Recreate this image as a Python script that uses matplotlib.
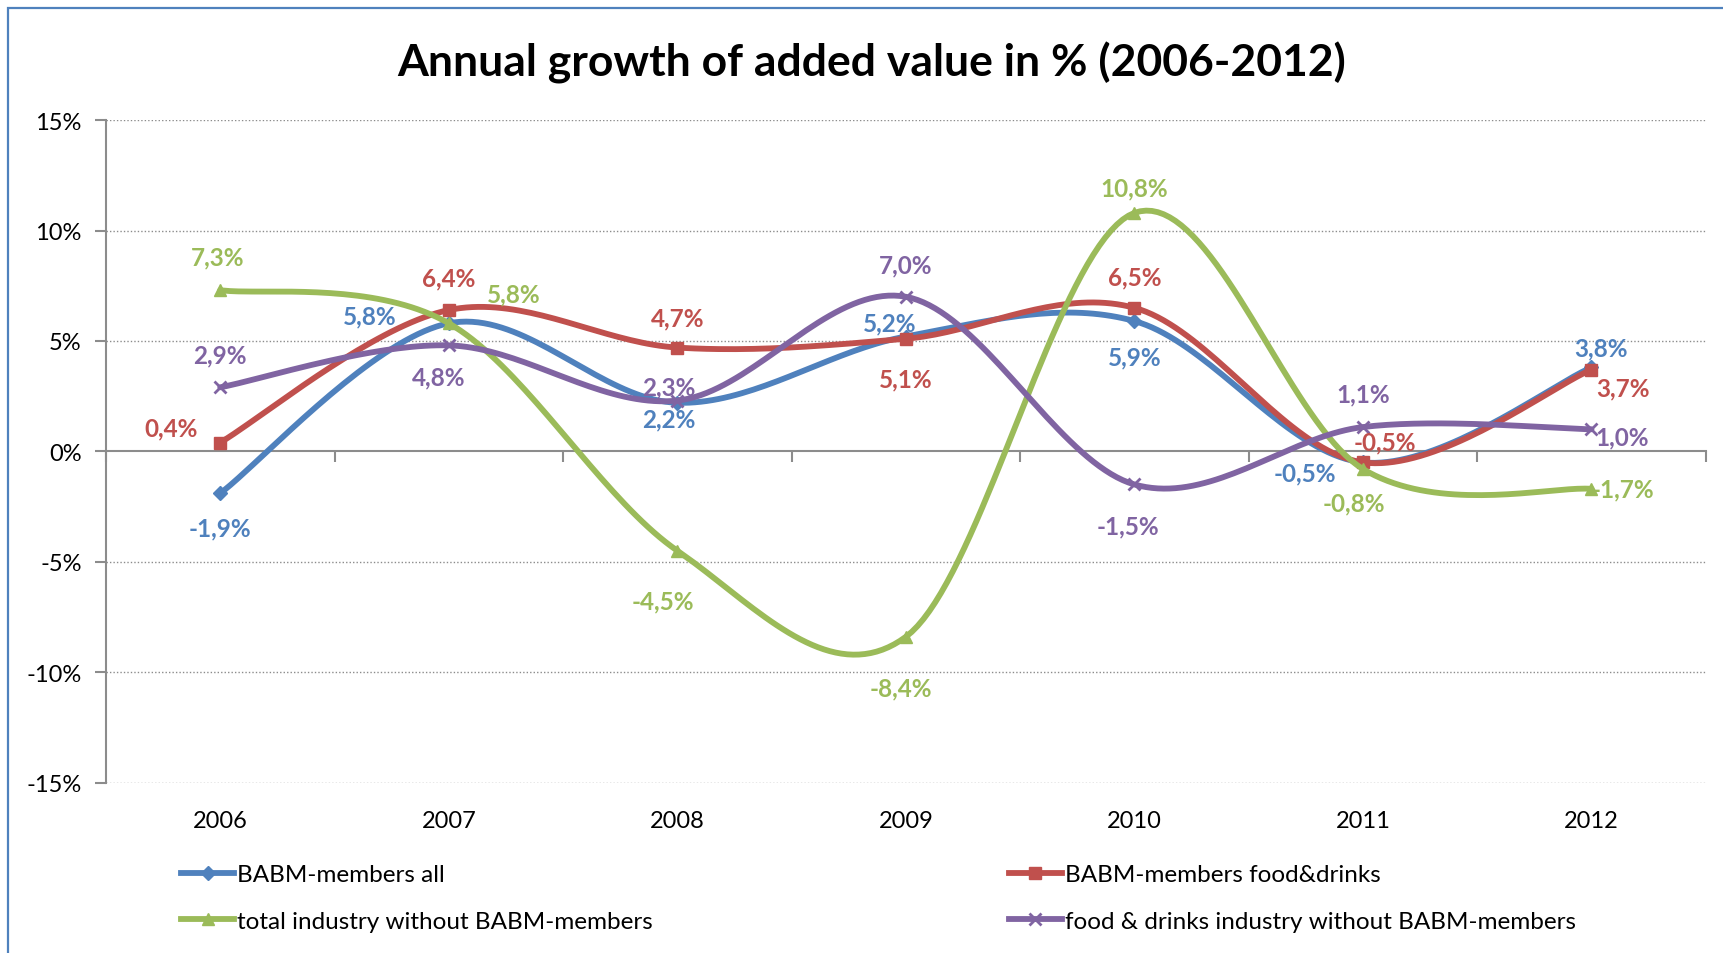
import matplotlib
matplotlib.use("Agg")
import matplotlib.pyplot as plt
import numpy as np
from matplotlib.lines import Line2D
from matplotlib.patches import Rectangle

# ── Data ──────────────────────────────────────────────────────────────────────
years = ["2006", "2007", "2008", "2009", "2010", "2011", "2012"]
babm_all = [-1.9, 5.8, 2.2, 5.2, 5.9, -0.5, 3.8]
babm_food = [0.4, 6.4, 4.7, 5.1, 6.5, -0.5, 3.7]
industry_wo_babm = [7.3, 5.8, -4.5, -8.4, 10.8, -0.8, -1.7]
food_wo_babm = [2.9, 4.8, 2.3, 7.0, -1.5, 1.1, 1.0]

series_names = [
    "BABM-members all",
    "BABM-members food&drinks",
    "total industry without BABM-members",
    "food & drinks industry without BABM-members",
]

# ── Styles ────────────────────────────────────────────────────────────────────
COLORS = ["#4F81BD", "#C0504D", "#9BBB59", "#8064A2"]
MARKERS = ["D", "s", "^", "x"]
MSIZE = [7, 9, 9, 9]
# label offsets in pixels (dx, dy) per point
OFFSETS = [
    [(0, -35), (-79, 7), (-9, -16), (-16, 14), (0, -36), (-58, -11), (9, 20)],
    [(-49, 15), (0, 32), (0, 30), (0, -40), (0, 31), (22, 20), (31, -18)],
    [(-3, 33), (65, 29), (-14, -50), (-5, -51), (0, 25), (-9, -34), (31, 0)],
    [(0, 32), (-10, -32), (-9, 14), (0, 32), (-6, -41), (0, 33), (31, -8)],
]

plt.rcParams.update({
    "font.family": ["Lato", "DejaVu Sans"],
    "font.size": 17,
})


def smooth(y, n=40):
    """Catmull-Rom style bezier smoothing (like Excel's smoothed line)."""
    y = np.asarray(y, float)
    x = np.arange(len(y), dtype=float)
    pts = np.column_stack([x, y])
    out = []
    for i in range(len(pts) - 1):
        p0 = pts[max(i - 1, 0)]
        p1 = pts[i]
        p2 = pts[i + 1]
        p3 = pts[min(i + 2, len(pts) - 1)]
        c1 = p1 + (p2 - p0) / 6.0
        c2 = p2 - (p3 - p1) / 6.0
        t = np.linspace(0, 1, n)[:, None]
        seg = ((1 - t) ** 3) * p1 + 3 * ((1 - t) ** 2) * t * c1 \
            + 3 * (1 - t) * t ** 2 * c2 + t ** 3 * p2
        out.append(seg if i == 0 else seg[1:])
    out = np.vstack(out)
    return out[:, 0], out[:, 1]


fig = plt.figure(figsize=(17.23, 9.54), dpi=100)
ax = fig.add_axes([0.0615, 0.1787, 0.9285, 0.6943])

all_series = [babm_all, babm_food, industry_wo_babm, food_wo_babm]
x = np.arange(len(years))
handles = []
for k, vals in enumerate(all_series):
    xs, ys = smooth(vals)
    ax.plot(xs, ys, color=COLORS[k], lw=4.2, solid_capstyle="round", zorder=3 + k)
    ax.plot(x, vals, ls="none", marker=MARKERS[k], ms=MSIZE[k], color=COLORS[k],
            mew=2 if MARKERS[k] == "x" else 1, zorder=3 + k)
    for i, v in enumerate(vals):
        ax.annotate(f"{v:.1f}%".replace(".", ","), (i, v),
                    xytext=OFFSETS[k][i], textcoords="offset pixels",
                    ha="center", va="center", color=COLORS[k],
                    fontsize=17.5, fontweight="bold", zorder=10)
    handles.append(Line2D([], [], color=COLORS[k], lw=4.2, marker=MARKERS[k],
                          ms=MSIZE[k], mew=2 if MARKERS[k] == "x" else 1))

ax.set_xlim(-0.5, 6.5)
ax.set_ylim(-15, 15)
yt = np.arange(-15, 16, 5)
ax.set_yticks(yt, [f"{v}%" for v in yt])
for v in yt:
    if v != 0:
        ax.axhline(v, color="#8c8c8c", lw=1, ls=(0, (1, 1.5)), zorder=1)

for s in ["top", "right"]:
    ax.spines[s].set_visible(False)
ax.spines["left"].set_color("#8c8c8c")
ax.spines["left"].set_linewidth(1.5)
ax.spines["bottom"].set_position(("data", 0))
ax.spines["bottom"].set_color("#8c8c8c")
ax.spines["bottom"].set_linewidth(1.5)
ax.set_xticks(np.arange(-0.5, 7, 1), [""] * 8)
ax.tick_params(axis="x", direction="out", length=8, color="#8c8c8c", width=1.5)
ax.tick_params(axis="y", direction="out", length=8, color="#8c8c8c", width=1.5,
               pad=9.6, labelsize=17)

# category labels sit at the bottom of the plot area
sec = ax.secondary_xaxis("bottom")
sec.set_xticks(x, years)
sec.tick_params(length=0, pad=20, labelsize=17)
sec.spines["bottom"].set_visible(False)

fig.text(0.506, 0.934, "Annual growth of added value in % (2006-2012)",
         ha="center", va="center", fontsize=32, fontweight="bold")

order = [0, 2, 1, 3]
fig.legend([handles[i] for i in order], [series_names[i] for i in order],
           ncol=2, loc="upper left", bbox_to_anchor=(0.0923, 0.116),
           frameon=False, fontsize=17.5, handlelength=2.2, handletextpad=0.1,
           columnspacing=14.65, labelspacing=1.05)

# outer chart frame (runs off the right and bottom of the image)
fig.patches.append(Rectangle((8 / 1723, -0.1), 1.2, 1 - 9 / 954 + 0.1,
                             transform=fig.transFigure, fill=False,
                             edgecolor="#4F81BD", lw=1.6))

fig.savefig("out.png", dpi=100)
